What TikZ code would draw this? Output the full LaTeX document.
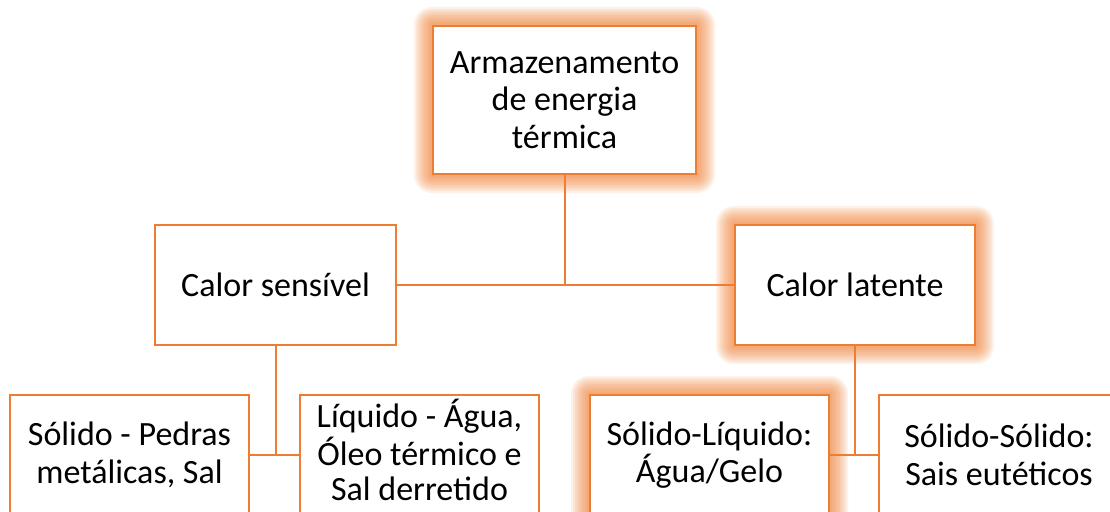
\documentclass[tikz,border=0pt]{standalone}
\usepackage{fontspec}
\setmainfont{Carlito}
\usetikzlibrary{calc,backgrounds}

\definecolor{accent}{HTML}{ED7D31}

% soft orange halo behind a node
\newcommand{\halo}[1]{%
  \begin{scope}[on background layer]
    \foreach \g in {18,16,...,2}
      \fill[accent, opacity=0.11, rounded corners=\g pt]
        ($(#1.south west)+(-\g,\g)$) rectangle ($(#1.north east)+(\g,-\g)$);
  \end{scope}}

\begin{document}
\begin{tikzpicture}
        [x=1pt, y=-1pt,
        box/.style={rectangle, draw=accent, line width=2pt, fill=white,
                    minimum width=240pt, minimum height=120pt, inner sep=0pt,
                    align=center, font=\fontsize{34}{37.5}\selectfont},
        link/.style={draw=accent, line width=2pt},
        thinlink/.style={draw=accent, line width=1.3pt}]

        \useasboundingbox (0,0) rectangle (1110,511);

        % Top level
        \node[box, minimum width=263pt, minimum height=148pt] (top) at (564.5,100)
             {Armazenamento\\de energia\\térmica};

        % Second level
        \node[box, minimum width=241pt] (sens) at (275.5,285) {Calor sensível};
        \node[box] (lat) at (855,285) {Calor latente};

        % Third level
        \node[box, minimum width=239pt] (pedras) at (129.5,455) {Sólido - Pedras\\metálicas, Sal};
        \node[box, minimum width=239pt, font=\fontsize{34}{35}\selectfont] (liq) at (419.5,455)
             {\raisebox{5pt}{\begin{tabular}{@{}c@{}}Líquido - Água,\\Óleo térmico e\\Sal derretido\end{tabular}}};
        \node[box, minimum width=239pt] (sl) at (709.5,455) {Sólido-Líquido:\\Água/Gelo};
        \node[box] (ss) at (999,455) {Sólido-Sólido:\\Sais eutéticos};

        % Halos on the highlighted boxes
        \halo{top}
        \halo{lat}
        \halo{sl}

        % Connectors
        \draw[link] (top.south) -- (top.south |- lat.west) -- (lat.west);
        \draw[thinlink] (sens.east) -- (top.south |- sens.east);

        \draw[link] (sens.south) -- (sens.south |- pedras.east);
        \draw[thinlink] (pedras.east) -- (liq.west);

        \draw[link] (lat.south) -- (lat.south |- sl.east) -- (sl.east);
        \draw[thinlink] (lat.south |- ss.west) -- (ss.west);

    \end{tikzpicture}
\end{document}
